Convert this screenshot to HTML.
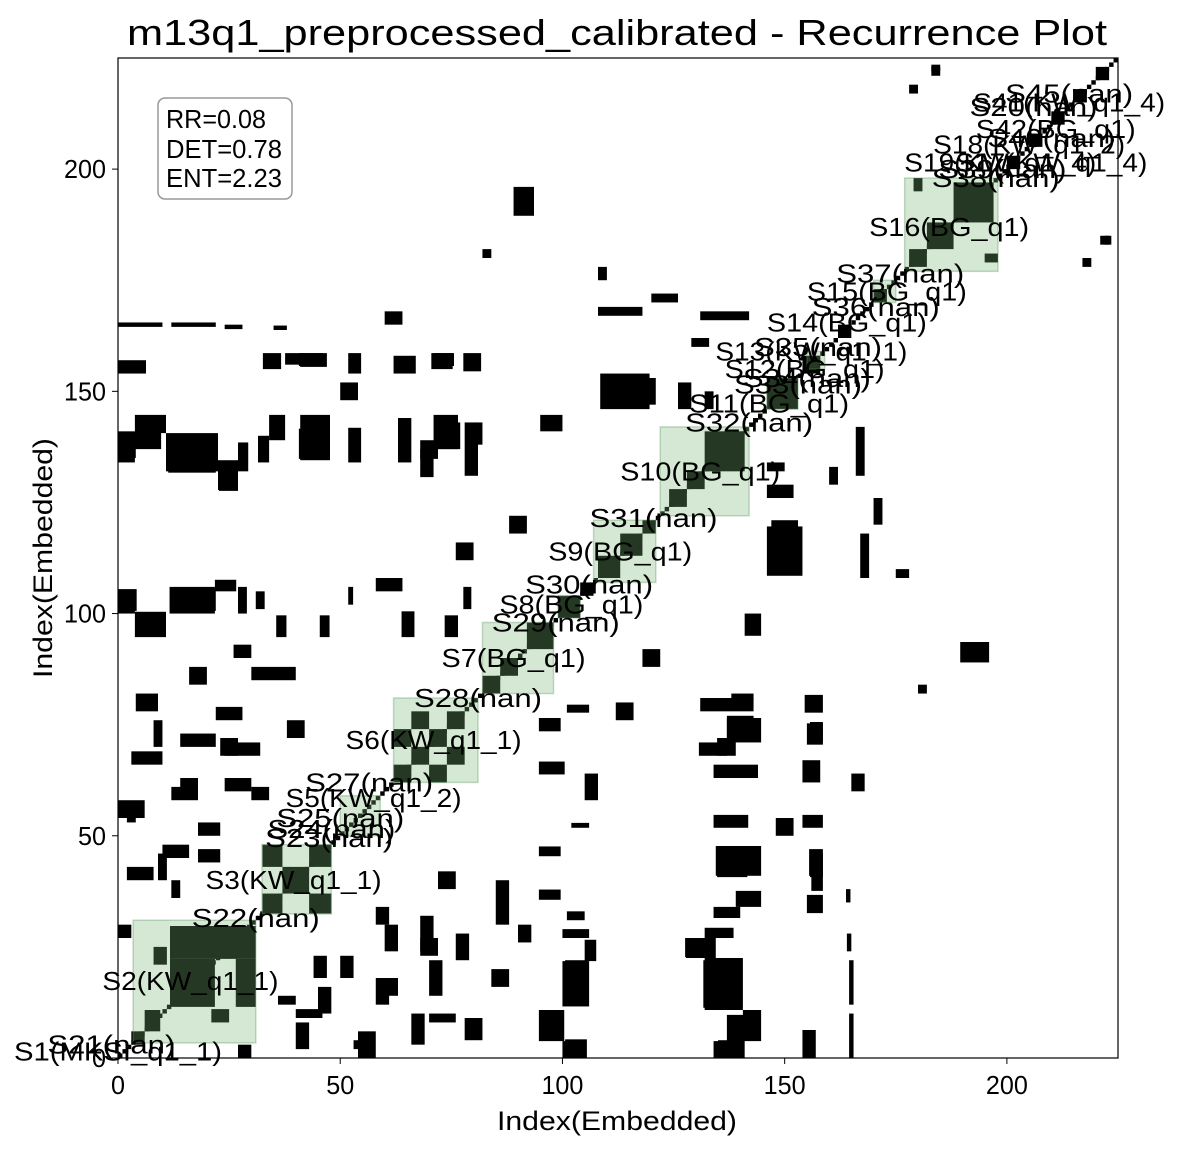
<!DOCTYPE html>
<html><head><meta charset="utf-8">
<style>
html,body{margin:0;padding:0;background:#fff;}
svg{display:block;}
text{font-family:"WenQuanYi Zen Hei","Liberation Sans","Noto Sans CJK SC",sans-serif;}
</style></head>
<body>
<svg id="chart" width="1187" height="1150" viewBox="0 0 1187 1150" xmlns="http://www.w3.org/2000/svg">
<rect width="1187" height="1150" fill="#fff"/>
<text x="127" y="45" font-size="36" textLength="980" lengthAdjust="spacingAndGlyphs">m13q1_preprocessed_calibrated - Recurrence Plot</text>
<g id="marks"></g>
<g id="segs"></g>
<g id="labels"></g>
<rect x="118" y="58" width="1000" height="1000" fill="none" stroke="#000" stroke-width="1.2"/>
<g id="axes"></g>
<text x="497" y="1130" font-size="27" textLength="240" lengthAdjust="spacingAndGlyphs">Index(Embedded)</text>
<text transform="translate(52,678) rotate(-90)" font-size="27" textLength="240" lengthAdjust="spacingAndGlyphs">Index(Embedded)</text>
<g>
<rect x="158" y="98" width="134" height="101" rx="7" fill="#fff" fill-opacity="0.8" stroke="#999" stroke-width="1.5"/>
<text x="166" y="128" font-size="26" textLength="100" lengthAdjust="spacingAndGlyphs">RR=0.08</text>
<text x="166" y="158" font-size="26" textLength="116" lengthAdjust="spacingAndGlyphs">DET=0.78</text>
<text x="166" y="187" font-size="26" textLength="116" lengthAdjust="spacingAndGlyphs">ENT=2.23</text>
</g>
</svg>
<script>
// recurrence blobs [x0,x1,y0,y1] in index units (mirrored about the diagonal)
const blobs = [
[0,3.8,134,140.6],[3.8,10.8,140.6,144.7],[10.8,22.5,132,140.6],[22.5,27,127.8,134.5],[27,29.3,132,138.5],
[31.5,34,134,140],[34,37.6,139,144.7],[41,47.7,134.5,144.7],[51.8,54.7,134,141.8],[63,66,134,144],
[68,71,130.7,137],[71,76.5,137,144.7],[78,81,131,143],[95,100,141,144.7],
[0,6.3,154,157],[32.6,36.7,155,158.6],[41,47,155.5,158.6],[51.8,54.7,154,158.6],[62,67,154,158],[70.5,75.3,155,158.6],[77.7,81.7,154.5,158.6],
[0,10,164.5,165.5],[12,22,164.5,165.5],[24,28,164,165],[35,38,163.8,164.8],
[0,3.8,100,105],[3.8,10.8,94.7,100.4],[11.6,21.8,100,106],[21.8,26.6,105,107.6],[27,29,100,106],[31,33,101,105],
[35.6,37.9,94.7,99.6],[45.4,47.6,94.7,99.6],[51.8,52.9,102,106],[63.8,66.7,94.7,100.5],[73.5,76.5,94.7,99.6],[77.7,79.5,101,106],
[100.6,105.5,12.4,22],[100.6,105.5,0,4.2],[131.7,140.4,11.3,22],[127.6,133.9,22.7,27],[137,140.7,3.3,9.7],[135,141,0,4],
[134.8,141.6,40.7,46],[134.8,139,68,72],[137,143,72,77],[155.7,158.6,71,75.6],[155.7,158.6,40.7,46],[156,158.6,37.6,41.7],
[189.5,196,89,93.6],[134,140,79,80.5],[138,143,80.5,82],
[108.5,119.6,146,154],[119,121,147,153],[126,129,146,152],[132,134,146,150],
[131,142,166,168],[108,118,167,169],
[183,185,222,223.5],[221,223,183,185],[217,219,178,180],[195,198,179,181],
[160,162,129,133],[170,172,120,126],[175,178,108,110],[180,182,82,84],
[8,10,70,76],[14,18,60,63],[23,27,68,72],[30,34,58,61],[38,42,72,76],[9,11,40,46],[18,23,44,47],
[2,4,53,57],[12,14,36,40],[21,25,8,11],[27,30,0,3],[40,43,2,8],[45,48,10,16],[50,53,18,23],
[54,58,0,6],[58,61,12,18],[66,69,3,10],[70,73,14,22],[78,82,4,9],[84,88,16,20],[90,93,26,30],
[85,88,30,40],[105,108,58,64],[112,116,76,80],[118,122,88,92],[148,152,50,54],[165,168,60,64],
[60,63,24,30],[68,71,24,32],[76,79,22,28]
];
// block structure inside segments [x0,x1,y0,y1]
const diagBlocks = [
[11.7,31,22.3,29.7],[26.5,31,11.5,22.3],[11.7,21.8,11.5,22.3],[6,9.5,6,10.8],[3,6,3,6],
[32.5,37,32.5,37],[37,43,37,43],[43,48,43,48],[43,48,32.5,37],[32.5,37,43,48],
[62,66,62,66],[66,70,66,70],[70,74,70,74],[74,78,74,78],[66,70,74,78],[74,78,66,70],[62,66,70,74],[70,74,62,66],
[82,86,82,86],[86,90,86,90],[92,98,92,98],[99,104,99,104],[104,107,104,107],
[108,113,108,113],[113,118,113,118],[118,121,118,121],
[124,128,124,128],[128,132,128,132],[132,141,132,141],
[146,153,146,153],[154,158,154,158],[162,165,162,165],[170,173,170,173],
[178,182,178,182],[182,188,182,188],[188,197,188,197],
[200,203,200,203],[205,208,205,208],[210,213,210,213],[215,218,215,218],[220,223,220,223]
];
// segments [start,end]
const segStart = [3.4,32.4,50,62,82,99,107,122,146,155,170,177];
const segEnd   = [31,48,59,81,98,104,121,142,153,159,175,198];
// labels and positions (index units)
const labelText = ["S1(MKSI_q1_1)","S21(nan)","S2(KW_q1_1)","S22(nan)","S3(KW_q1_1)","S23(nan)","S24(nan)","S25(nan)","S5(KW_q1_2)","S27(nan)","S6(KW_q1_1)","S28(nan)","S7(BG_q1)","S29(nan)","S8(BG_q1)","S30(nan)","S9(BG_q1)","S31(nan)","S10(BG_q1)","S32(nan)","S11(BG_q1)","S33(nan)","S34(nan)","S12(BG_q1)","S13(KW_q1_1)","S35(nan)","S14(BG_q1)","S36(nan)","S15(BG_q1)","S37(nan)","S16(BG_q1)","S38(nan)","S39(nan)","S19(KW_q1_4)","S17(KW_q1_4)","S18(KW_q1_2)","S40(nan)","S42(BG_q1)","S20(nan)","S41(KW_q1_4)","S45(nan)"];
const labelX = [0,-1.5,16.3,31,39.5,47.5,48,50,57.5,56.5,71,81,89,98.5,102,106,113,120.5,131,142,146.5,153,155,154.5,156,157.5,164,170.5,173,176,187,197.5,199,198.5,210,205,210,211,206,214,214];
const labelY = [1.5,3,17.3,31.5,40,49.5,51.5,54,58.5,62,71.6,81,90,98,102,106.5,114,121.5,132,143,147.3,151.5,153,155,159,160,165.5,169,172.5,176.5,187,198,200,201.5,201.5,205.5,207,209,214,215,217];

const S = 1000/225;
function px(v){ return 118 + v*S; }
function py(v){ return 1058 - v*S; }
const NS = "http://www.w3.org/2000/svg";
const marks = document.getElementById('marks');
function addRect(g, x0,x1,y0,y1, fill, name){
  const r = document.createElementNS(NS,'rect');
  r.setAttribute('x', px(x0)); r.setAttribute('y', py(y1));
  r.setAttribute('width', (x1-x0)*S); r.setAttribute('height', (y1-y0)*S);
  r.setAttribute('fill', fill);
  
  
  g.appendChild(r);
}
blobs.forEach(b=>{
  addRect(marks,b[0],b[1],b[2],b[3],'#000','recurrence-blob');
  addRect(marks,b[2],b[3],b[0],b[1],'#000','recurrence-blob-mirror');
});
diagBlocks.forEach(b=>{
  addRect(marks,b[0],b[1],b[2],b[3],'#000','diagonal-block');
});
for(let i=0;i<225;i++){
  addRect(marks,i,i+1,i,i+1,'#000','diagonal-point');
}
const segs = document.getElementById('segs');
segStart.forEach((s,i)=>{
  const e = segEnd[i];
  const r = document.createElementNS(NS,'rect');
  r.setAttribute('x', px(s)); r.setAttribute('y', py(e));
  r.setAttribute('width', (e-s)*S); r.setAttribute('height', (e-s)*S);
  r.setAttribute('fill','rgba(120,180,116,0.31)');
  r.setAttribute('stroke','rgba(90,150,90,0.35)');
  r.setAttribute('stroke-width','1.5');
  
  
  segs.appendChild(r);
});
const labels = document.getElementById('labels');
labelText.forEach((t,i)=>{
  const el = document.createElementNS(NS,'text');
  const w = t.length*16;
  el.setAttribute('x', px(labelX[i]) - w/2); el.setAttribute('y', py(labelY[i])+9);
  el.setAttribute('font-size','26');
  el.setAttribute('textLength', w); el.setAttribute('lengthAdjust','spacingAndGlyphs');
  el.textContent = t;
  
  
  labels.appendChild(el);
});
const ticks = [0,50,100,150,200];
const axes = document.getElementById('axes');
ticks.forEach(v=>{
  const lx = document.createElementNS(NS,'line');
  lx.setAttribute('x1',px(v)); lx.setAttribute('x2',px(v)); lx.setAttribute('y1',1058); lx.setAttribute('y2',1064);
  lx.setAttribute('stroke','#000');
  
  
  axes.appendChild(lx);
  const s = String(v);
  const tx = document.createElementNS(NS,'text');
  tx.setAttribute('x',px(v) - s.length*7); tx.setAttribute('y',1094); tx.setAttribute('font-size','26');
  tx.setAttribute('textLength', s.length*14); tx.setAttribute('lengthAdjust','spacingAndGlyphs');
  tx.textContent = s;
  
  
  axes.appendChild(tx);
  const ly = document.createElementNS(NS,'line');
  ly.setAttribute('x1',112); ly.setAttribute('x2',118); ly.setAttribute('y1',py(v)); ly.setAttribute('y2',py(v));
  ly.setAttribute('stroke','#000');
  
  
  axes.appendChild(ly);
  const ty = document.createElementNS(NS,'text');
  ty.setAttribute('x',106 - s.length*14); ty.setAttribute('y',py(v)+9); ty.setAttribute('font-size','26');
  ty.setAttribute('textLength', s.length*14); ty.setAttribute('lengthAdjust','spacingAndGlyphs');
  ty.textContent = s;
  
  
  axes.appendChild(ty);
});
</script>
</body></html>
